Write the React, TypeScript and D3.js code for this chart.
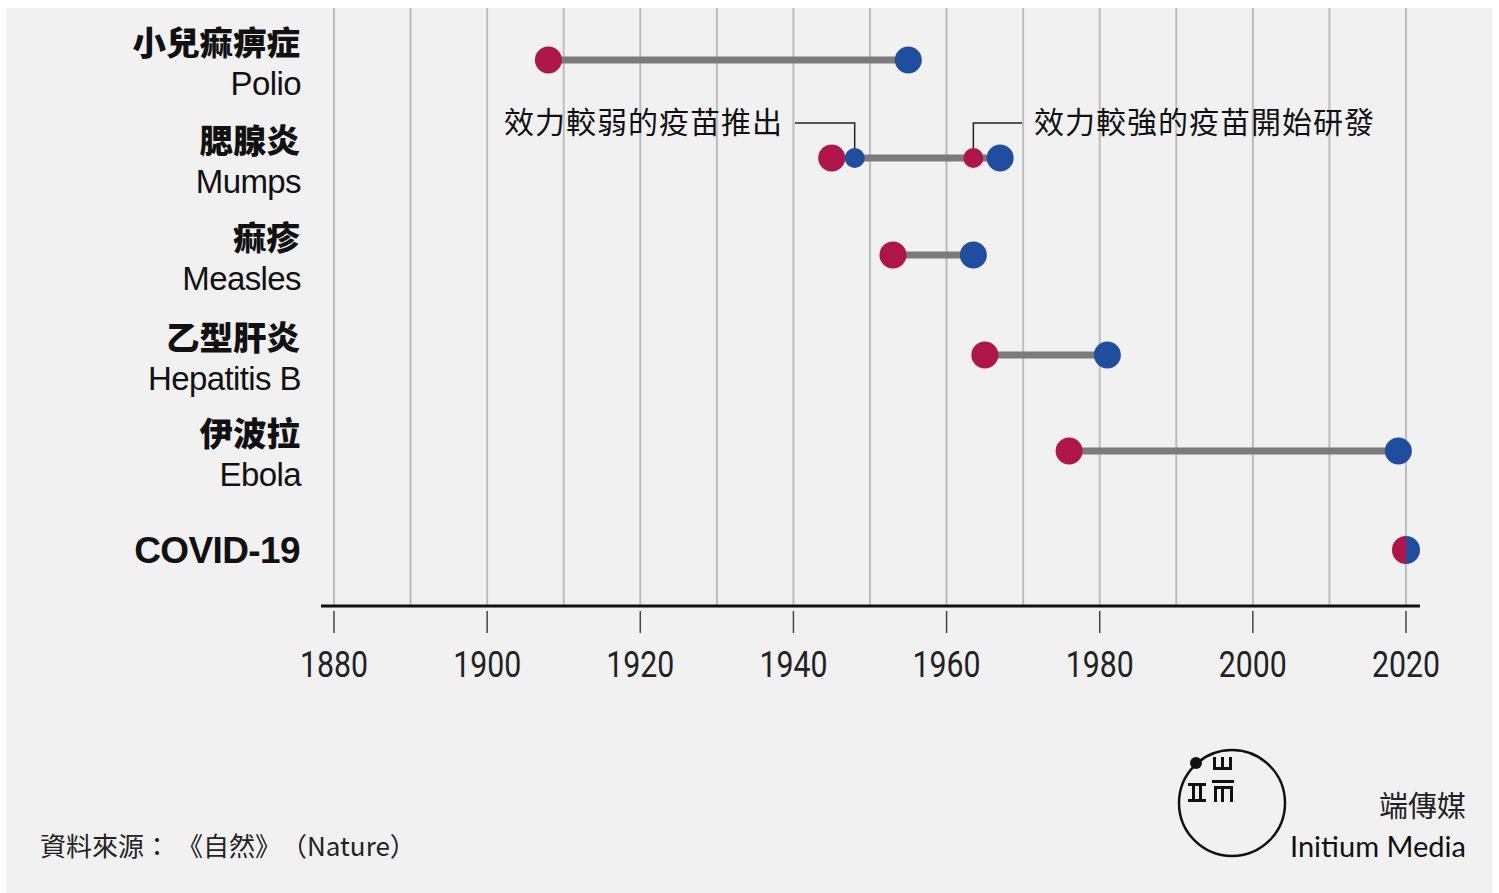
import React from "react";
import * as d3 from "d3";

const diseasesZh = ["小兒痲痹症", "腮腺炎", "痲疹", "乙型肝炎", "伊波拉"];
const diseasesEn = ["Polio", "Mumps", "Measles", "Hepatitis B", "Ebola"];
const discovered = [1908, 1945, 1953, 1965, 1976];
const vaccine = [1955, 1967, 1963.5, 1981, 2019];
const covidYear = 2020;
const weakVaccineYear = 1948;
const strongDevYear = 1963.5;
const tickYears = [1880, 1900, 1920, 1940, 1960, 1980, 2000, 2020];
const gridYears = d3.range(1880, 2021, 10);

const RED = "#b0154a";
const BLUE = "#1f4e9e";
const GREY_LINE = "#7b7b7b";

export default function App() {
  const W = 1499, H = 893;
  const x = d3.scaleLinear().domain([1880, 2020]).range([334, 1406]);
  const yRows = [60, 158, 255, 355, 451, 550];
  const yr = (i: number) => yRows[i];
  const axisY = 606;
  const zh = "'Noto Sans CJK TC', sans-serif";
  const en = "'Liberation Sans', Arial, sans-serif";
  const cjkStyle: any = { textSpacingTrim: "space-all" };

  return (
    <svg width={W} height={H} style={{ position: "absolute", left: 0, top: 0 }}>
      <rect x={6} y={8} width={1486} height={H - 8} fill="#f1f1f1" />
      {gridYears.map((g) => (
        <line key={g} x1={x(g)} x2={x(g)} y1={8} y2={axisY} stroke="#bdbdbd" strokeWidth={2} />
      ))}
      <line x1={321} x2={1420} y1={axisY} y2={axisY} stroke="#111" strokeWidth={3} />
      {tickYears.map((t) => (
        <g key={t}>
          <line x1={x(t)} x2={x(t)} y1={611} y2={633} stroke="#444" strokeWidth={1.5} />
          <text x={x(t)} y={677} textAnchor="middle" fontFamily="Roboto, sans-serif" fontSize={37}
            fill="#222" textLength={68} lengthAdjust="spacingAndGlyphs" fontWeight={400}>{t}</text>
        </g>
      ))}

      {diseasesZh.map((d, i) => (
        <g key={d}>
          <text x={300} y={yr(i) - 5} textAnchor="end" fontFamily={zh} fontWeight={900} fontSize={33.5} fill="#111">{d}</text>
          <text x={301} y={yr(i) + 35} textAnchor="end" fontFamily={en} fontSize={33} fill="#111" letterSpacing={-0.6}>{diseasesEn[i]}</text>
        </g>
      ))}
      <text x={300} y={yr(5) + 13} textAnchor="end" fontFamily={en} fontWeight={700} fontSize={37} fill="#111" letterSpacing={-0.6}>COVID-19</text>

      {/* annotations */}
      <polyline points={`795,123 ${x(weakVaccineYear)},123 ${x(weakVaccineYear)},${yr(1)}`} fill="none" stroke="#222" strokeWidth={1.5} />
      <polyline points={`1022,123 ${x(strongDevYear)},123 ${x(strongDevYear)},${yr(1)}`} fill="none" stroke="#222" strokeWidth={1.5} />
      <text x={783} y={133} textAnchor="end" fontFamily={zh} fontSize={30} fill="#111" letterSpacing={1}>效力較弱的疫苗推出</text>
      <text x={1034} y={133} textAnchor="start" fontFamily={zh} fontSize={30} fill="#111" letterSpacing={1}>效力較強的疫苗開始研發</text>

      {discovered.map((d, i) => {
        const lo = i === 1 ? weakVaccineYear : d;
        return (
          <g key={i}>
            <line x1={x(lo)} x2={x(vaccine[i])} y1={yr(i)} y2={yr(i)} stroke={GREY_LINE} strokeWidth={7} />
            <circle cx={x(d)} cy={yr(i)} r={13.5} fill={RED} />
            {i === 1 && <circle cx={x(weakVaccineYear)} cy={yr(i)} r={10} fill={BLUE} />}
            {i === 1 && <circle cx={x(strongDevYear)} cy={yr(i)} r={10} fill={RED} />}
            <circle cx={x(vaccine[i])} cy={yr(i)} r={13.5} fill={BLUE} />
          </g>
        );
      })}
      {/* COVID half circles */}
      <path d={`M${x(covidYear)},${yr(5) - 14} A14,14 0 0,0 ${x(covidYear)},${yr(5) + 14} Z`} fill={RED} />
      <path d={`M${x(covidYear)},${yr(5) - 14} A14,14 0 0,1 ${x(covidYear)},${yr(5) + 14} Z`} fill={BLUE} />

      {/* source */}
      <text y={856} fontFamily={zh} fontSize={26} fill="#222" style={cjkStyle}>
        <tspan x={40}>資料來源：</tspan>
        <tspan x={177}>《自然》</tspan>
        <tspan x={281}>（Nature）</tspan>
      </text>

      {/* logo */}
      <circle cx={1232} cy={803} r={53} fill="none" stroke="#111" strokeWidth={2.5} />
      <circle cx={1196} cy={763} r={6} fill="#111" />
      <g fill="#111">
        <rect x={1188} y={783} width={18} height={3} />
        <rect x={1188} y={799} width={18} height={3} />
        <rect x={1192} y={783} width={3} height={19} />
        <rect x={1199} y={783} width={3} height={19} />
        <rect x={1213} y={757} width={3} height={12} />
        <rect x={1221} y={757} width={3} height={12} />
        <rect x={1229} y={757} width={3} height={12} />
        <rect x={1213} y={767} width={19} height={3} />
        <rect x={1212} y={780} width={22} height={3} />
        <rect x={1214} y={786} width={19} height={3} />
        <rect x={1214} y={786} width={3} height={16} />
        <rect x={1221} y={786} width={3} height={16} />
        <rect x={1230} y={786} width={3} height={16} />
      </g>
      <text x={1466} y={817} textAnchor="end" fontFamily={zh} fontSize={29} fill="#222">端傳媒</text>
      <text x={1466} y={857} textAnchor="end" fontFamily="Lato, sans-serif" fontSize={29} fill="#111"
        textLength={176} lengthAdjust="spacingAndGlyphs">Initium Media</text>
    </svg>
  );
}
